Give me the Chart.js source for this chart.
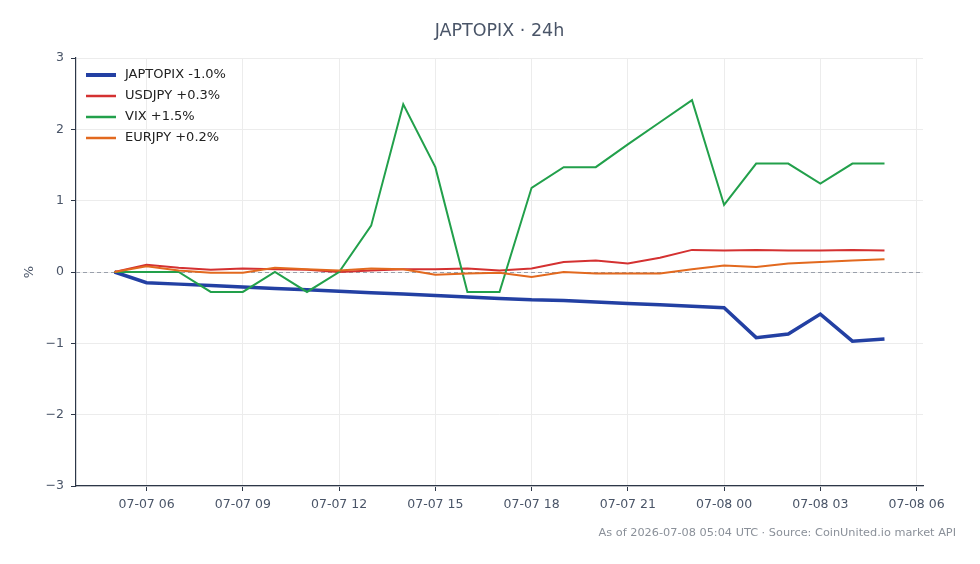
<!DOCTYPE html>
<html><head><meta charset="utf-8">
<script src="https://cdn.jsdelivr.net/npm/chart.js@4.4.1/dist/chart.umd.min.js"></script>
<style>html,body{margin:0;padding:0;background:#fff}#wrap{width:980px;height:564px;position:relative}</style>
</head><body><div id="wrap"><canvas id="c" width="980" height="564"></canvas></div>
<script>
// Hours since 2026-07-07 00:00 UTC (hourly samples)
const hours = [5,6,7,8,9,10,11,12,13,14,15,16,17,18,19,20,21,22,23,24,25,26,27,28,29];
const japtopix = [0,-0.15,-0.17,-0.19,-0.21,-0.23,-0.25,-0.27,-0.29,-0.31,-0.33,-0.35,-0.37,-0.39,-0.40,-0.42,-0.44,-0.46,-0.48,-0.50,-0.92,-0.87,-0.59,-0.97,-0.94];
const usdjpy   = [0,0.10,0.06,0.03,0.05,0.04,0.03,0.00,0.02,0.04,0.04,0.05,0.02,0.05,0.14,0.16,0.12,0.20,0.31,0.30,0.31,0.30,0.30,0.31,0.30];
const vix      = [0,0.00,0.00,-0.28,-0.28,0.00,-0.28,0.00,0.65,2.35,1.47,-0.28,-0.28,1.18,1.47,1.47,1.79,2.10,2.41,0.94,1.52,1.52,1.24,1.52,1.52];
const eurjpy   = [0,0.08,0.02,-0.01,-0.01,0.06,0.04,0.02,0.05,0.04,-0.04,-0.02,-0.01,-0.07,0.00,-0.02,-0.02,-0.02,0.04,0.09,0.07,0.12,0.14,0.16,0.18];
const seriesNames = ['JAPTOPIX -1.0%','USDJPY +0.3%','VIX +1.5%','EURJPY +0.2%'];
const xTickHours = [6,9,12,15,18,21,24,27,30];
const xTickLabels = ['07-07 06','07-07 09','07-07 12','07-07 15','07-07 18','07-07 21','07-08 00','07-08 03','07-08 06'];
const yTickValues = [-3,-2,-1,0,1,2,3];
const titleText = 'JAPTOPIX · 24h';
const footText = 'As of 2026-07-08 05:04 UTC · Source: CoinUnited.io market API';

const colors = ['#2340a3','#d43131','#22a04b','#e2691f'];
const widths = [3.5,2,2,2];
const FONT = "'DejaVu Sans', sans-serif";
const AX = '#2d3748';
const TXT = '#4a5568';

const seriesData = [japtopix, usdjpy, vix, eurjpy];
const datasets = seriesData.map((arr, i) => ({
  label: seriesNames[i],
  data: hours.map((h, k) => ({x: h, y: arr[k]})),
  borderColor: colors[i],
  backgroundColor: colors[i],
  borderWidth: widths[i],
  pointRadius: 0,
  tension: 0,
  fill: false,
  order: 3 - i
}));

const decor = {
  id: 'decor',
  beforeDatasetsDraw(chart) {
    const {ctx, chartArea, scales} = chart;
    const y0 = Math.round(scales.y.getPixelForValue(0)) + 0.5;
    ctx.save();
    ctx.strokeStyle = '#9aa0ab';
    ctx.lineWidth = 1;
    ctx.setLineDash([4,3]);
    ctx.beginPath();
    ctx.moveTo(chartArea.left, y0);
    ctx.lineTo(chartArea.right, y0);
    ctx.stroke();
    ctx.restore();
  },
  afterDraw(chart) {
    const {ctx, chartArea} = chart;
    ctx.save();
    ctx.fillStyle = TXT;
    ctx.font = '17.5px ' + FONT;
    ctx.textAlign = 'center';
    ctx.textBaseline = 'middle';
    ctx.fillText(titleText, (chartArea.left + chartArea.right) / 2, 31);
    ctx.fillStyle = '#8a9099';
    ctx.font = '11.3px ' + FONT;
    ctx.textAlign = 'right';
    ctx.fillText(footText, 956, 533);
    ctx.font = '13px ' + FONT;
    ctx.textAlign = 'left';
    chart.data.datasets.forEach((ds, i) => {
      const yy = 75 + i * 21;
      ctx.strokeStyle = ds.borderColor;
      ctx.lineWidth = i === 0 ? 4 : 2.5;
      ctx.beginPath();
      ctx.moveTo(86, yy);
      ctx.lineTo(116, yy);
      ctx.stroke();
      ctx.fillStyle = '#222';
      ctx.fillText(ds.label, 125, yy);
    });
    ctx.restore();
  }
};

new Chart(document.getElementById('c'), {
  type: 'line',
  data: { datasets },
  plugins: [decor],
  options: {
    responsive: false,
    devicePixelRatio: 1,
    animation: false,
    layout: { padding: { top: 58, right: 57, bottom: 0, left: 0 } },
    plugins: { legend: { display: false }, title: { display: false }, tooltip: { enabled: false } },
    scales: {
      x: {
        type: 'linear',
        min: 3.8, max: 30.2,
        afterBuildTicks: s => { s.ticks = xTickHours.map(v => ({value: v})); },
        afterFit: s => { s.height = 78; },
        ticks: {
          autoSkip: false, maxRotation: 0, padding: 6,
          font: { family: FONT, size: 12.5 }, color: TXT,
          callback: (v) => xTickLabels[xTickHours.indexOf(v)]
        },
        grid: { color: '#ececec', tickColor: AX, tickLength: 5, drawTicks: true },
        border: { color: AX, width: 1.2 }
      },
      y: {
        min: -3, max: 3,
        afterBuildTicks: s => { s.ticks = yTickValues.map(v => ({value: v})); },
        afterFit: s => { s.width = 76; },
        ticks: {
          padding: 7,
          font: { family: FONT, size: 12.5 }, color: TXT,
          callback: v => v < 0 ? '\u2212' + Math.abs(v) : String(v)
        },
        title: { display: true, text: '%', font: { family: FONT, size: 13 }, color: TXT, padding: { top: 22, bottom: 0 } },
        grid: { color: '#ececec', tickColor: AX, tickLength: 5, drawTicks: true },
        border: { color: AX, width: 1.2 }
      }
    }
  }
});
</script></body></html>
